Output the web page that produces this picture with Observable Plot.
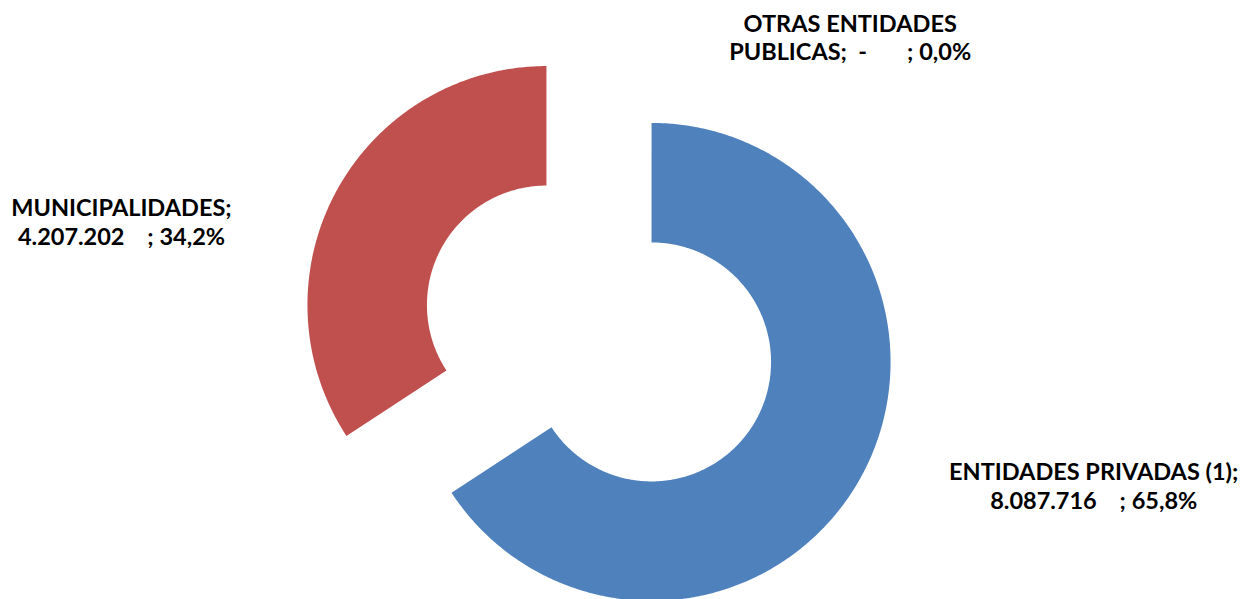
<!DOCTYPE html>
<html>
<head>
<meta charset="utf-8">
<script src="https://cdn.jsdelivr.net/npm/d3@7"></script>
<script src="https://cdn.jsdelivr.net/npm/@observablehq/plot@0.6"></script>
<style>
  html, body { margin: 0; padding: 0; background: #fff; }
  #chart text { white-space: pre; }
</style>
</head>
<body>
<div id="chart"></div>
<script>
// ---- data ----
const categories = ["ENTIDADES PRIVADAS (1)", "MUNICIPALIDADES", "OTRAS ENTIDADES PUBLICAS"];
const values = [8087716, 4207202, 0];
const valueLabels = ["8.087.716", "4.207.202", "-"];
const percentLabels = ["65,8%", "34,2%", "0,0%"];
const colors = ["#4F81BD", "#C0504D", "#9BBB59"];

// label text per slice (as shown in the chart)
const labelTexts = [
  "ENTIDADES PRIVADAS (1);\n" + valueLabels[0] + "    ; " + percentLabels[0],
  "MUNICIPALIDADES;\n" + valueLabels[1] + "    ; " + percentLabels[1],
  "OTRAS ENTIDADES\nPUBLICAS;  " + valueLabels[2] + "       ; " + percentLabels[2]
];

// ---- layout ----
const W = 1244, H = 599;
const R = 1, innerR = 0.5, explode = 0.25;
const pxPerUnit = 239, cx = 598.5, cy = 333;
const xDomain = [-cx / pxPerUnit, (W - cx) / pxPerUnit];
const yDomain = [-(H - cy) / pxPerUnit, cy / pxPerUnit];
const labelLayout = [[2.07, -0.635], [-1.998, 0.469], [1.051, 1.241]];

const arcs = d3.pie().sort(null).value(d => d)(values);

function slicePolygon(a, i) {
  const mid = (a.startAngle + a.endAngle) / 2;
  const ox = explode * Math.sin(mid), oy = explode * Math.cos(mid);
  const n = Math.max(2, Math.ceil((a.endAngle - a.startAngle) / (Math.PI / 360)));
  const pts = [];
  for (let k = 0; k <= n; k++) {
    const t = a.startAngle + (a.endAngle - a.startAngle) * k / n;
    pts.push({x: ox + R * Math.sin(t), y: oy + R * Math.cos(t), i});
  }
  for (let k = n; k >= 0; k--) {
    const t = a.startAngle + (a.endAngle - a.startAngle) * k / n;
    pts.push({x: ox + innerR * Math.sin(t), y: oy + innerR * Math.cos(t), i});
  }
  return pts;
}

const sliceMarks = arcs
  .map((a, i) => ({a, i}))
  .filter(({a}) => a.endAngle - a.startAngle > 0)
  .map(({a, i}) => Plot.line(slicePolygon(a, i), {
    x: "x", y: "y", curve: "linear-closed", fill: colors[i], stroke: "none"
  }));

const labels = categories.map((c, i) => ({
  x: labelLayout[i][0], y: labelLayout[i][1], text: labelTexts[i]
}));

const chart = Plot.plot({
  width: W, height: H,
  marginTop: 0, marginRight: 0, marginBottom: 0, marginLeft: 0,
  x: {domain: xDomain, axis: null},
  y: {domain: yDomain, axis: null},
  style: {background: "#fff"},
  marks: [
    ...sliceMarks,
    Plot.text(labels, {
      x: "x", y: "y", text: "text",
      fontSize: 23.5, fontWeight: "bold", fontFamily: "Lato",
      fill: "#000", lineHeight: 1.21, textAnchor: "middle"
    })
  ]
});
document.getElementById("chart").appendChild(chart);
</script>
</body>
</html>
